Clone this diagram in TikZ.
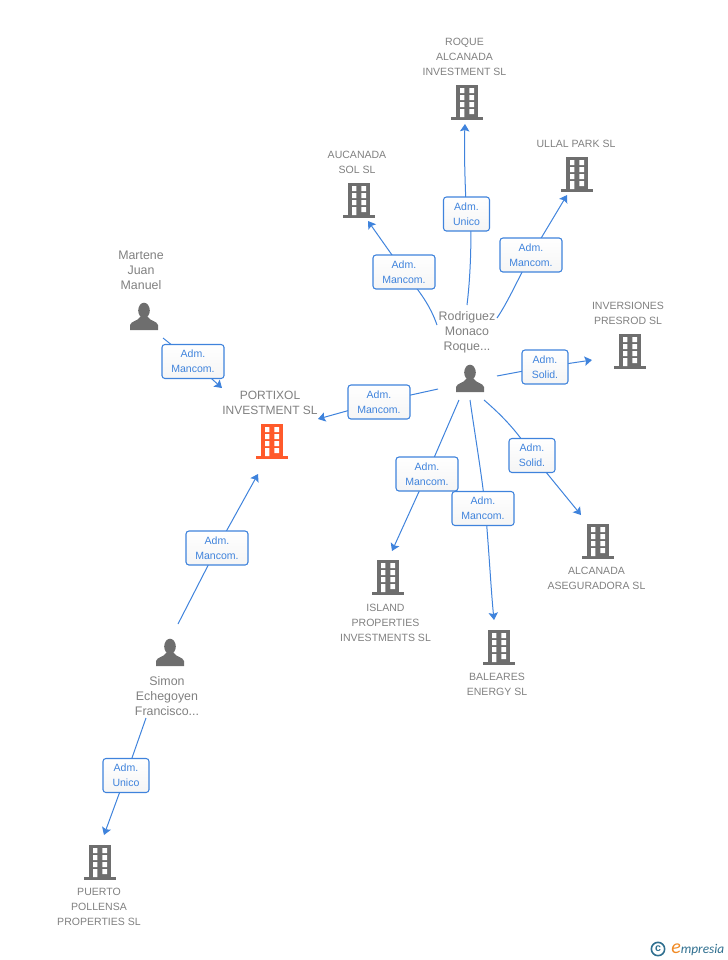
\documentclass[tikz,border=0pt]{standalone}
\usepackage{fontspec}
\setmainfont{Liberation Sans}
\newfontfamily\logofont{Carlito}
\usetikzlibrary{arrows.meta,shadings}
\definecolor{edgeblue}{HTML}{3F83DC}
\definecolor{labelgray}{HTML}{808080}
\definecolor{icongray}{HTML}{6E6E6E}
\definecolor{iconred}{HTML}{FF5A2B}
\definecolor{logoteal}{HTML}{2F6F8F}
\definecolor{logoorange}{HTML}{F08A24}
\tikzset{
  x=0.75pt,y=-0.75pt,
  rolebox/.style={draw=edgeblue,line width=0.8pt,rounded corners=2.2pt,top color=white,bottom color=black!4,
    text=edgeblue,minimum height=34*0.75pt,inner sep=0pt,align=center,
    font=\fontsize{7.9}{11.25}\selectfont},
  mancom/.style={rolebox,minimum width=62*0.75pt},
  solid box/.style={rolebox,minimum width=46*0.75pt},
  edgeline/.style={draw=edgeblue,line width=0.75pt},
  arrowline/.style={edgeline,-{Stealth[length=5.5pt,width=7pt,inset=1pt]}},
  entity/.style={text=labelgray,align=center,inner sep=0pt,font=\fontsize{7.9}{11.25}\selectfont},
  person name/.style={entity,font=\fontsize{9.3}{11.25}\selectfont},
  building/.pic={
    \fill[pic actions] (-11,-17) rectangle (11,15);
    \fill[pic actions] (-16,15) rectangle (16,18);
    \fill[white] (-7,-14) rectangle (-2.7,-9) (2.3,-14) rectangle (7,-9)
      (-7,-7) rectangle (-2.7,-2) (2.3,-7) rectangle (7,-2)
      (-7,0) rectangle (-2.7,5) (2.3,0) rectangle (7,5)
      (-7,7) rectangle (-2.7,15) (2.3,7) rectangle (7,12);
  },
  personicon/.pic={
    \fill[icongray] (0,-6.5) ellipse[x radius=5.8,y radius=7.8];
    \fill[icongray] (-14,13) -- (-14,8) .. controls (-13,4) and (-6,4) .. (-4,0)
      -- (4,0) .. controls (6,4) and (13,4) .. (14,8) -- (14,13) -- cycle;
  },
}
\begin{document}
\begin{tikzpicture}
\useasboundingbox (0,0) rectangle (728,960);
% free ends of connectors
\coordinate (rRoque) at (467,305);   \coordinate (eRoque) at (465,124);
\coordinate (rUllal) at (497,318);   \coordinate (eUllal) at (567,195);
\coordinate (rAuca) at (437,325);    \coordinate (eAuca) at (368,221);
\coordinate (rInv) at (497,376);     \coordinate (eInv) at (592,360);
\coordinate (rPort) at (438,389);    \coordinate (ePort) at (318,419);
\coordinate (rIsl) at (459,400);     \coordinate (eIsl) at (392,551);
\coordinate (rBal) at (470,400);     \coordinate (eBal) at (494,620);
\coordinate (rAlc) at (484,400);     \coordinate (eAlc) at (581,515);
\coordinate (mStart) at (163,338);   \coordinate (mEnd) at (222,388);
\coordinate (sPort) at (178,624);    \coordinate (ePort2) at (258,474);
\coordinate (sPuer) at (146,718);    \coordinate (ePuer) at (104,835);
\coordinate (bRoqueL) at (471,225);  \coordinate (bRoqueU) at (466,205);
\coordinate (bUllal) at (531,255);
\coordinate (bAuca) at (404,272);    \coordinate (bInv) at (545,367);
\coordinate (bPort) at (379,402);    \coordinate (bIsl) at (427,474);
\coordinate (bBal) at (485,505);     \coordinate (bAlc) at (532,455);
\coordinate (bMart) at (193,362);    \coordinate (bSim) at (217,548);
\coordinate (bPuer) at (126,775);
% connectors
\draw[edgeline] (rRoque) .. controls (470,280) and (471,255) .. (bRoqueL);
\draw[arrowline] (bRoqueU) .. controls (465,180) and (464,150) .. (eRoque);
\draw[edgeline] (rUllal) .. controls (508,302) and (520,275) .. (bUllal);
\draw[arrowline] (bUllal) -- (eUllal);
\draw[edgeline] (rAuca) .. controls (430,305) and (420,292) .. (bAuca);
\draw[arrowline] (bAuca) -- (eAuca);
\draw[edgeline] (rInv) -- (bInv);
\draw[arrowline] (bInv) -- (eInv);
\draw[edgeline] (rPort) -- (bPort);
\draw[arrowline] (bPort) -- (ePort);
\draw[edgeline] (rIsl) -- (bIsl);
\draw[arrowline] (bIsl) -- (eIsl);
\draw[edgeline] (rBal) .. controls (475,435) and (481,470) .. (bBal);
\draw[arrowline] (bBal) .. controls (489,550) and (491,590) .. (eBal);
\draw[edgeline] (rAlc) .. controls (505,418) and (520,435) .. (bAlc);
\draw[arrowline] (bAlc) -- (eAlc);
\draw[edgeline] (mStart) -- (bMart);
\draw[arrowline] (bMart) -- (mEnd);
\draw[edgeline] (sPort) -- (bSim);
\draw[arrowline] (bSim) -- (ePort2);
\draw[edgeline] (sPuer) -- (bPuer);
\draw[arrowline] (bPuer) -- (ePuer);
% role boxes
\node[solid box] (lRoque) at (466.5,214) {Adm.\\Unico};
\node[mancom] (lUllal) at (531,255) {Adm.\\Mancom.};
\node[mancom] (lAuca) at (404,272) {Adm.\\Mancom.};
\node[solid box] (lInv) at (545,367) {Adm.\\Solid.};
\node[mancom] (lPort) at (379,402) {Adm.\\Mancom.};
\node[mancom] (lIsl) at (427,474) {Adm.\\Mancom.};
\node[mancom] (lBal) at (483,508.5) {Adm.\\Mancom.};
\node[solid box] (lAlc) at (532,455.5) {Adm.\\Solid.};
\node[mancom] (lMart) at (193,361.5) {Adm.\\Mancom.};
\node[mancom] (lSim) at (217,548) {Adm.\\Mancom.};
\node[solid box] (lPuer) at (126,775.5) {Adm.\\Unico};
% icons
\pic[icongray] at (467,102) {building};
\pic[icongray] at (359,200) {building};
\pic[icongray] at (577,174) {building};
\pic[icongray] at (630,351) {building};
\pic[iconred] at (272,441) {building};
\pic[icongray] at (388,577) {building};
\pic[icongray] at (499,647) {building};
\pic[icongray] at (598,541) {building};
\pic[icongray] at (100,862) {building};
\pic at (144,317) {personicon};
\pic at (470,379) {personicon};
\pic at (170,653) {personicon};
% names
\node[entity] (nRoque) at (464.5,57) {ROQUE\\ALCANADA\\INVESTMENT SL};
\node[entity] (nAuca) at (357,162.5) {AUCANADA\\SOL SL};
\node[entity] (nUllal) at (576,144) {ULLAL PARK SL};
\node[entity] (nInv) at (628,313.5) {INVERSIONES\\PRESROD  SL};
\node[entity,font=\fontsize{9}{11.25}\selectfont] (nPort) at (270,403) {PORTIXOL\\INVESTMENT SL};
\node[entity] (nIsl) at (385.5,623) {ISLAND\\PROPERTIES\\INVESTMENTS SL};
\node[entity] (nBal) at (497,684.5) {BALEARES\\ENERGY SL};
\node[entity] (nAlc) at (596.5,578.5) {ALCANADA\\ASEGURADORA SL};
\node[entity] (nPuer) at (99,907) {PUERTO\\POLLENSA\\PROPERTIES  SL};
\node[person name] (nMart) at (141,270) {Martene\\Juan\\Manuel};
\node[person name] (nRod) at (467,332) {Rodriguez\\Monaco\\Roque...};
\node[person name] (nSim) at (167,696) {Simon\\Echegoyen\\Francisco...};
% logo
\node[circle,draw=logoteal,line width=1.2pt,text=logoteal,inner sep=0pt,minimum size=10pt,font=\bfseries\fontsize{8}{8}\selectfont] (logoC) at (658,949) {c};
\node[anchor=west,inner sep=0pt,text=logoteal,font=\logofont\itshape\fontsize{10}{12}\selectfont] (logoT) at (671,949.5) {{\color{logoorange}\fontsize{15}{12}\selectfont e}mpresia};
\end{tikzpicture}
\end{document}
